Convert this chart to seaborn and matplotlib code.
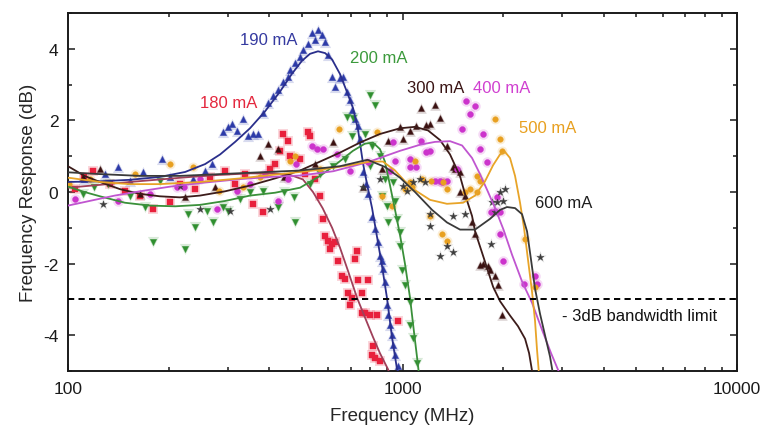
import numpy as np
import pandas as pd
import matplotlib
matplotlib.use("Agg")
import matplotlib.pyplot as plt
from matplotlib.ticker import FixedLocator, NullFormatter, MultipleLocator
import seaborn as sns

# ---------------------------------------------------------------- data
# measured points (frequency in MHz, response in dB)
f_180 = [105, 112, 119, 133.5, 148, 164, 179, 202, 216, 240, 266, 295, 316, 338, 357, 384,
         402, 416, 430, 439, 455, 461, 494, 522, 529, 511, 548, 567, 577, 587, 598, 616,
         628, 607, 641, 731, 721, 660, 673, 736, 788, 687, 757, 706, 697, 757, 772, 800,
         839, 970, 816, 811, 828, 856]
r_180 = [0.08, 0.42, 0.58, 0.22, 0.03, -0.10, -0.47, -0.28, 0.22, 0.08, 0.42, 0.58, 0.22, 0.50, -0.33, -0.56,
         0.64, 0.78, 1.14, 1.61, 1.42, 1.00, 0.92, 1.67, 1.56, 0.50, 0.36, -0.10, -0.75, -1.22, -1.36, -1.44,
         -1.39, -1.58, -1.92, -1.64, -1.86, -2.36, -2.42, -2.47, -2.47, -2.83, -2.83, -2.97, -3.17, -3.39, -3.39, -3.44,
         -3.44, -3.61, -4.31, -4.56, -4.64, -4.72]

f_190 = [112, 129, 141, 153, 167.5, 191, 202, 236, 257, 270, 290, 300, 310, 321, 333, 345,
         357, 370, 384, 395, 409, 424, 439, 455, 461, 477, 494, 504, 522, 536, 547, 559,
         574, 587, 598, 616, 628, 650, 664, 682, 697, 706, 721, 736, 746, 762, 778, 788,
         811, 828, 845, 856, 868, 874, 886, 899, 905, 917, 930, 937, 950, 970]
r_190 = [0.36, 0.50, 0.69, 0.31, 0.56, 0.92, 0.42, 0.36, 0.58, 0.78, 1.67, 1.81, 1.89, 1.69, 2.03, 1.56,
         1.61, 1.61, 2.22, 2.50, 2.67, 2.86, 3.06, 3.22, 3.42, 3.61, 3.78, 3.97, 4.14, 4.44, 4.25, 4.53,
         4.39, 4.19, 3.83, 3.22, 2.94, 3.19, 3.22, 2.78, 2.58, 2.30, 2.03, 1.83, 1.47, 0.56, 0.22, -0.06,
         -0.69, -1.03, -1.39, -1.78, -1.92, -2.14, -2.50, -3.17, -3.44, -3.72, -4.00, -4.28, -4.56, -4.86]

f_200 = [111, 120, 132, 153, 170, 179, 188, 224, 228, 240, 260, 272, 291, 301, 327, 350,
         384, 424, 443, 474, 477, 529, 567, 621, 673, 682, 711, 706, 772, 800, 828, 811,
         856, 800, 886, 937, 868, 899, 950, 905, 963, 983, 983, 997, 1017, 1053, 1053, 1075,
         1105]
r_200 = [-0.06, 0.14, 0.22, -0.10, -0.42, -1.39, 0.31, -1.58, -0.61, -0.97, -0.53, -0.83, -0.42, -0.53, -0.19, 0.00,
         0.03, -0.42, 0.00, -0.14, -0.83, 0.22, 0.50, 0.72, 0.92, 2.10, 2.08, 1.56, 1.61, 2.72, 2.44, 1.28,
         1.00, 0.72, 0.36, 0.28, -0.10, -0.39, -0.25, -0.83, -0.75, -1.11, -1.50, -2.19, -2.61, -3.06, -3.72, -4.08,
         -4.78]

f_300 = [111, 125, 164, 224, 275, 375, 395, 424, 443, 547, 621, 762, 868, 905, 983, 1004,
         1053, 1097, 1136, 1176, 1209, 1251, 1295, 1358, 1411, 1436, 1486, 1486, 1538, 1614, 1648, 1705,
         1740, 1802, 1827, 1891, 1930, 1984]
r_300 = [0.42, 0.64, -0.06, -0.14, 0.14, 1.00, 1.33, 1.19, 0.42, 0.78, 1.39, 0.14, 0.64, 1.42, 1.81, 1.47,
         1.69, 1.83, 2.36, 1.86, 1.89, 2.44, 2.08, 1.28, 0.69, 0.64, 0.56, 0.00, -0.11, -0.83, -1.17, -2.05,
         -2.00, -2.08, -2.19, -2.36, -2.61, -3.44]

f_400 = [105, 141, 176, 212, 222, 248, 278, 320, 350, 388, 424, 455, 480, 536, 555, 577,
         637, 697, 786, 917, 937, 950, 1053, 1053, 1097, 1136, 1176, 1209, 1251, 1295, 1312, 1358,
         1457, 1507, 1550, 1592, 1648, 1705, 1740, 1790, 1840, 1891, 1917, 1957, 1957, 2004, 2308, 2490,
         2524]
r_400 = [-0.19, -0.25, -0.06, 0.14, 0.14, 0.36, -0.47, 0.03, 0.22, 0.50, -0.25, 0.36, 0.78, 1.28, 1.19, 1.19,
         1.06, 0.58, 0.83, 0.58, 1.39, 0.86, 0.92, 0.69, 0.69, 1.42, 1.11, 1.14, 0.31, 0.31, 0.28, 0.31,
         0.64, 1.75, 2.53, 2.17, 2.39, 1.19, 1.61, 0.83, -0.56, -0.53, -0.14, -0.56, -1.17, -1.92, -2.56, -2.36,
         -2.56]

f_500 = [101, 116, 159, 202, 236, 282, 333, 375, 461, 477, 567, 646, 839, 868, 930, 1017,
         1053, 1068, 1090, 1144, 1218, 1322, 1358, 1538, 1592, 1667, 1667, 1705, 1209, 1312, 1358, 1891,
         1957, 1990, 2325, 2490]
r_500 = [0.22, 0.36, 0.50, 0.78, 0.69, 0.03, 0.14, 0.42, 0.86, 1.00, 0.64, 1.75, 1.67, -0.10, -0.39, 0.08,
         0.28, 0.14, 0.86, 0.36, 0.31, 0.28, 0.08, 0.00, 0.08, 0.44, 0.00, 0.31, -0.67, -1.17, -1.36, 2.03,
         1.47, 1.14, -1.31, -2.64]

f_600 = [127, 216, 248, 305, 402, 762, 856, 1004, 1032, 1075, 1128, 1168, 1209, 1209, 1295, 1358,
         1411, 1411, 1538, 1840, 1852, 1891, 1917, 1957, 2004, 2025, 2577]
r_600 = [-0.33, 0.17, -0.47, -0.53, -0.47, 0.14, 0.36, 0.17, 0.03, 0.28, 0.36, 0.28, -0.61, -0.94, -1.78, -1.50,
         -1.67, -0.67, -0.61, -1.44, -0.28, -0.56, -0.28, 0.00, -0.25, 0.08, -1.81]

# fitted response curves (frequency in MHz, response in dB)
fit_f_180 = [100, 124.6, 153, 188, 232, 285, 350, 416, 461, 504, 540, 577, 616, 650, 687, 731,
             772, 816, 856, 905, 917]
fit_r_180 = [0.12, 0.20, 0.28, 0.35, 0.42, 0.48, 0.52, 0.52, 0.48, 0.35, 0.00, -0.45, -1.00, -1.55, -2.20, -2.95,
             -3.50, -4.05, -4.50, -4.95, -5.10]

fit_f_190 = [100, 124.6, 153, 188, 224, 257, 285, 316, 350, 388, 430, 467, 500, 529, 559, 587,
             616, 650, 682, 711, 736, 762, 788, 811, 839, 868, 899, 930, 963, 983]
fit_r_190 = [0.28, 0.30, 0.34, 0.42, 0.56, 0.78, 1.05, 1.40, 1.78, 2.25, 2.80, 3.30, 3.66, 3.86, 3.93, 3.88,
             3.70, 3.30, 2.80, 2.35, 1.75, 0.80, 0.10, -0.45, -1.25, -2.05, -2.97, -4.05, -4.95, -5.10]

fit_f_200 = [100, 112, 124.6, 148, 176, 209, 248, 295, 350, 416, 494, 567, 628, 711, 772, 816,
             856, 886, 917, 950, 983, 1017, 1053, 1082, 1113, 1120]
fit_r_200 = [0.15, 0.00, -0.12, -0.30, -0.38, -0.40, -0.36, -0.25, -0.10, -0.02, 0.12, 0.45, 0.75, 1.15, 1.35, 1.38,
             1.20, 0.85, 0.20, -0.50, -1.20, -2.00, -2.95, -3.90, -4.85, -5.10]

fit_f_300 = [100, 112, 124.6, 143, 164, 188, 216, 248, 295, 350, 416, 494, 567, 650, 746, 856,
             983, 1090, 1192, 1295, 1387, 1486, 1548, 1614, 1648, 1765, 1866, 1957, 2096, 2215, 2325, 2390,
             2440, 2460]
fit_r_300 = [0.72, 0.45, 0.28, 0.08, -0.05, -0.12, -0.15, -0.10, 0.02, 0.18, 0.38, 0.60, 0.85, 1.10, 1.38, 1.62,
             1.78, 1.82, 1.72, 1.45, 1.05, 0.44, -0.15, -0.67, -1.10, -1.95, -2.65, -3.05, -3.45, -3.75, -4.10, -4.50,
             -5.00, -5.10]

fit_f_400 = [100, 116, 138, 164, 202, 248, 327, 402, 494, 621, 786, 983, 1128, 1251, 1387, 1507,
             1614, 1705, 1802, 1891, 2004, 2125, 2277, 2440, 2613, 2780, 2958]
fit_r_400 = [-0.38, -0.25, -0.10, 0.02, 0.15, 0.25, 0.36, 0.42, 0.46, 0.58, 0.83, 1.15, 1.32, 1.40, 1.42, 1.30,
             0.95, 0.50, 0.00, -0.45, -1.05, -1.75, -2.50, -3.10, -3.85, -4.50, -5.10]

fit_f_500 = [100, 124.6, 153, 188, 248, 327, 430, 567, 697, 800, 874, 950, 1017, 1090, 1209, 1358,
             1517, 1648, 1765, 1866, 1957, 2025, 2096, 2170, 2246, 2308, 2373, 2440, 2490, 2524, 2560]
fit_r_500 = [0.40, 0.28, 0.22, 0.22, 0.28, 0.38, 0.50, 0.62, 0.75, 0.85, 0.85, 0.60, 0.30, 0.05, -0.22, -0.33,
             -0.30, -0.10, 0.30, 0.75, 1.05, 1.12, 0.95, 0.45, -0.30, -1.00, -1.90, -2.80, -3.60, -4.40, -5.10]

fit_f_600 = [100, 124.6, 164, 216, 285, 375, 494, 650, 786, 886, 983, 1090, 1226, 1358, 1486, 1648,
             1827, 1957, 2053, 2170, 2277, 2357, 2423, 2490, 2577, 2667, 2761, 2819]
fit_r_600 = [0.55, 0.50, 0.45, 0.45, 0.50, 0.55, 0.60, 0.72, 0.90, 0.70, 0.40, 0.00, -0.50, -0.85, -1.05, -1.05,
             -0.75, -0.50, -0.42, -0.45, -0.62, -1.10, -1.90, -2.70, -3.40, -4.00, -4.60, -5.10]

currents = ["180 mA", "190 mA", "200 mA", "300 mA", "400 mA", "500 mA", "600 mA"]
bandwidth_limit = -3.0

# ---------------------------------------------------------------- style
sns.set_style("ticks")
plt.rcParams["font.family"] = ["Liberation Sans", "DejaVu Sans"]

styles = {
    "180 mA": dict(marker="s", point="#e8203c", line="#a0405a", label="#e4283e", s=14),
    "190 mA": dict(marker="^", point="#2c3aa8", line="#2a2f8c", label="#353aa0", s=20),
    "200 mA": dict(marker="v", point="#2f8f2f", line="#3a903a", label="#3c9a3c", s=20),
    "300 mA": dict(marker="^", point="#3a1010", line="#3c1c1a", label="#3a1414", s=18),
    "400 mA": dict(marker="o", point="#cc33cc", line="#c055d0", label="#d040d0", s=18),
    "500 mA": dict(marker="o", point="#e8a020", line="#e8a428", label="#e8a020", s=16),
    "600 mA": dict(marker="*", point="#3c3c3c", line="#3a3a3a", label="#1e1e1e", s=26),
}

points = {
    "180 mA": (f_180, r_180), "190 mA": (f_190, r_190), "200 mA": (f_200, r_200),
    "300 mA": (f_300, r_300), "400 mA": (f_400, r_400), "500 mA": (f_500, r_500),
    "600 mA": (f_600, r_600),
}
fits = {
    "180 mA": (fit_f_180, fit_r_180), "190 mA": (fit_f_190, fit_r_190),
    "200 mA": (fit_f_200, fit_r_200), "300 mA": (fit_f_300, fit_r_300),
    "400 mA": (fit_f_400, fit_r_400), "500 mA": (fit_f_500, fit_r_500),
    "600 mA": (fit_f_600, fit_r_600),
}

W, H = 763, 431
fig = plt.figure(figsize=(W / 100, H / 100), dpi=100)
ax = fig.add_axes([68 / W, 1 - 372 / H, (737 - 68) / W, (372 - 14) / H])
ax.set_xscale("log")

# ---------------------------------------------------------------- marks
for name in currents:
    st = styles[name]
    f, r = points[name]
    df = pd.DataFrame({"freq": f, "resp": r})
    # soft halo under each marker
    sns.scatterplot(data=df, x="freq", y="resp", ax=ax, marker=st["marker"],
                    color=st["point"], s=st["s"] * 3.2, alpha=0.18,
                    linewidth=0, legend=False, zorder=2)
    sns.scatterplot(data=df, x="freq", y="resp", ax=ax, marker=st["marker"],
                    color=st["point"], s=st["s"], linewidth=0.3,
                    edgecolor=st["point"], legend=False, zorder=3)

for name in currents:
    st = styles[name]
    f, r = fits[name]
    df = pd.DataFrame({"freq": f, "resp": r})
    sns.lineplot(data=df, x="freq", y="resp", ax=ax, color=st["line"],
                 linewidth=1.3, sort=False, estimator=None, legend=False, zorder=4)

ax.axhline(bandwidth_limit, color="black", linestyle=(0, (3.2, 2.2)), linewidth=1.4, zorder=5)

# ---------------------------------------------------------------- labels
label_pos = {
    "190 mA": (326, 4.25), "200 mA": (697, 3.75), "180 mA": (248, 2.50),
    "300 mA": (1032, 2.92), "400 mA": (1625, 2.92), "500 mA": (2230, 1.81),
    "600 mA": (2490, -0.28),
}
for name, (x, y) in label_pos.items():
    ax.text(x, y, name, color=styles[name]["label"], fontsize=12,
            ha="left", va="center", zorder=6)
ax.text(2998, -3.44, "- 3dB bandwidth limit", color="#111111", fontsize=12,
        ha="left", va="center", zorder=6)

# ---------------------------------------------------------------- axes
ax.set_xlim(100, 10000)
ax.set_ylim(-5, 5)
ax.xaxis.set_major_locator(FixedLocator([100, 1000, 10000]))
ax.set_xticklabels(["100", "1000", "10000"])
ax.xaxis.set_minor_locator(FixedLocator(
    [m * d for d in (100, 1000) for m in range(2, 10)]))
ax.xaxis.set_minor_formatter(NullFormatter())
ax.yaxis.set_major_locator(FixedLocator([-4, -2, 0, 2, 4]))
ax.set_yticklabels(["-4", "-2", "0", "2", "4"])
ax.yaxis.set_minor_locator(MultipleLocator(1))

ax.tick_params(which="both", direction="in", top=True, right=True,
               width=1.1, colors="#1a1a1a", labelsize=12.5)
ax.tick_params(which="major", length=5, pad=7)
ax.tick_params(which="minor", length=3)
for sp in ax.spines.values():
    sp.set_linewidth(1.4)
    sp.set_color("#1a1a1a")
    sp.set_visible(True)

ax.set_xlabel("Frequency (MHz)", fontsize=13.5, labelpad=8)
ax.set_ylabel("Frequency Response (dB)", fontsize=13.5, labelpad=4)

fig.savefig("out.png", dpi=100)
